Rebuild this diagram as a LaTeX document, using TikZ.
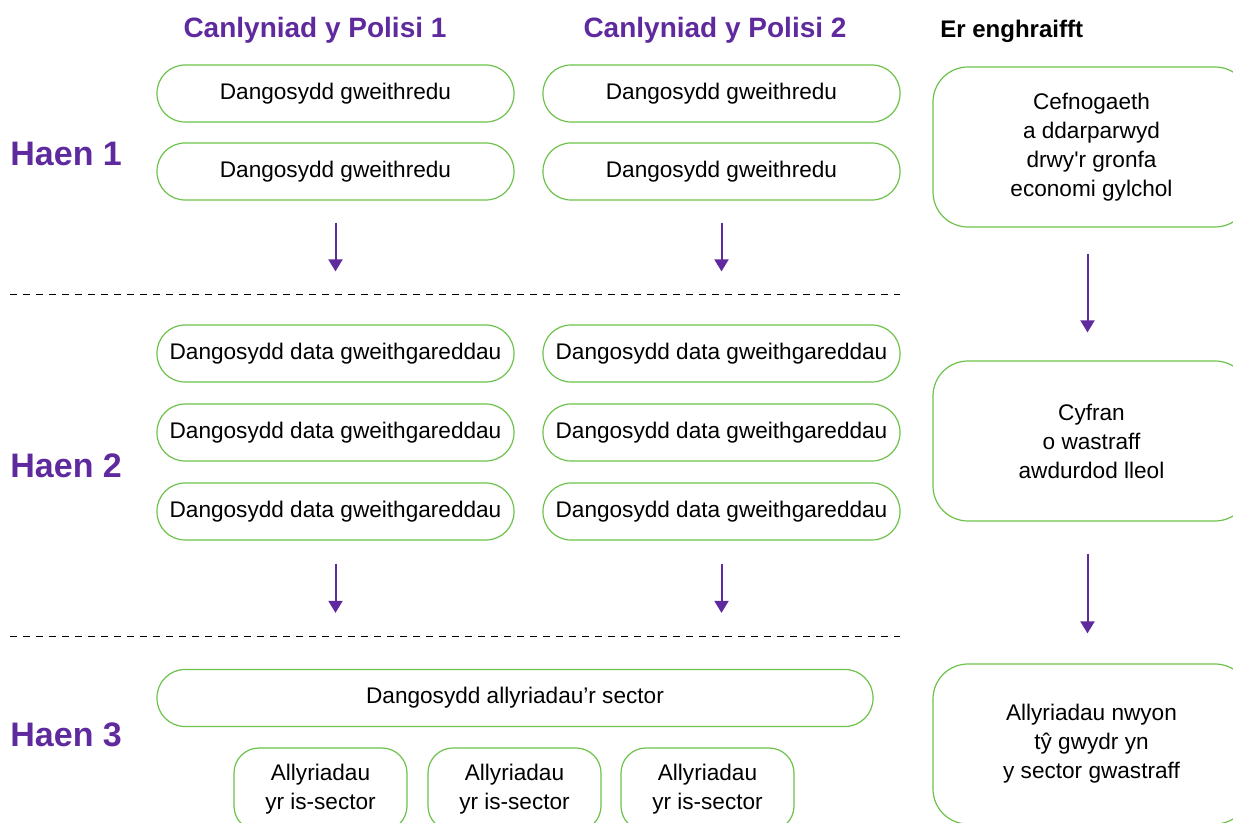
\documentclass[tikz,border=0pt]{standalone}
\usepackage{fontspec}
\setmainfont{Liberation Sans}
\usetikzlibrary{arrows.meta,positioning}
\definecolor{haenpurple}{HTML}{5F2A9E}
\definecolor{boxgreen}{HTML}{6CC24A}

\begin{document}
\begin{tikzpicture}[x=0.5pt,y=-0.5pt,
    pill/.style={draw=boxgreen,line width=0.6pt,rounded corners=14pt,
        minimum width=178.5pt,minimum height=28.5pt,inner sep=0pt,
        font=\fontsize{11.3}{14.5}\selectfont},
    tallbox/.style={draw=boxgreen,line width=0.6pt,rounded corners=17.5pt,
        minimum width=158.5pt,minimum height=80pt,inner sep=0pt,align=center,
        font=\fontsize{11.3}{14.5}\selectfont},
    subbox/.style={draw=boxgreen,line width=0.6pt,rounded corners=12.5pt,
        minimum width=86.5pt,minimum height=41.5pt,inner sep=0pt,align=center,
        font=\fontsize{11.3}{14.5}\selectfont},
    flow/.style={draw=haenpurple,line width=1pt,-{Triangle[width=7pt,length=6pt]}},
    haen/.style={text=haenpurple,font=\bfseries\fontsize{17}{20}\selectfont,
        anchor=base west,inner sep=0pt},
    colhead/.style={text=haenpurple,font=\bfseries\fontsize{14}{17}\selectfont,anchor=base},
    tierline/.style={line width=0.5pt,dash pattern=on 3.5pt off 3pt}]
  \useasboundingbox (0,0) rectangle (1233,823);
  \clip (0,0) rectangle (1233,823);

  % headings
  \node[colhead] (head1) at (315,38) {Canlyniad y Polisi 1};
  \node[colhead] (head2) at (715,38) {Canlyniad y Polisi 2};
  \node[anchor=base west,inner sep=0pt,font=\bfseries\fontsize{12}{14}\selectfont]
    (headeg) at (940,37.5) {Er enghraifft};
  \node[haen] (haen1) at (10,166) {Haen 1};
  \node[haen] (haen2) at (10,477.5) {Haen 2};
  \node[haen] (haen3) at (10,746.5) {Haen 3};

  % haen 1
  \node[pill] (p1a) at (335.5,93.5) {Dangosydd gweithredu};
  \node[pill] (p1b) at (335.5,171.5) {Dangosydd gweithredu};
  \node[pill] (p2a) at (721.5,93.5) {Dangosydd gweithredu};
  \node[pill] (p2b) at (721.5,171.5) {Dangosydd gweithredu};

  \draw[tierline] (10,295) -- (900,295);

  % haen 2
  \node[pill] (q1a) at (335.5,353.5) {Dangosydd data gweithgareddau};
  \node[pill] (q1b) at (335.5,432.5) {Dangosydd data gweithgareddau};
  \node[pill] (q1c) at (335.5,511.5) {Dangosydd data gweithgareddau};
  \node[pill] (q2a) at (721.5,353.5) {Dangosydd data gweithgareddau};
  \node[pill] (q2b) at (721.5,432.5) {Dangosydd data gweithgareddau};
  \node[pill] (q2c) at (721.5,511.5) {Dangosydd data gweithgareddau};

  \draw[tierline] (10,637) -- (900,637);

  % haen 3
  \node[pill,minimum width=358pt] (sec) at (515,698) {Dangosydd allyriadau’r sector};
  \node[subbox] (sub1) at (320.5,789.5) {Allyriadau\\yr is-sector};
  \node[subbox] (sub2) at (514.5,789.5) {Allyriadau\\yr is-sector};
  \node[subbox] (sub3) at (707.5,789.5) {Allyriadau\\yr is-sector};

  \draw[flow,shorten <=11pt,shorten >=26.5pt] (p1b.south) -- (q1a.north);
  \draw[flow,shorten <=11pt,shorten >=26.5pt] (p2b.south) -- (q2a.north);
  \draw[flow,shorten <=11.5pt,shorten >=28pt] (q1c.south) -- (q1c.south |- sec.north);
  \draw[flow,shorten <=11.5pt,shorten >=28pt] (q2c.south) -- (q2c.south |- sec.north);

  % example column
  \node[tallbox] (eg1) at (1091.5,147)
    {Cefnogaeth\\a ddarparwyd\\drwy\textquotesingle r gronfa\\economi gylchol};
  \node[tallbox] (eg2) at (1091.5,441) {Cyfran\\o wastraff\\awdurdod lleol};
  \node[tallbox] (eg3) at (1091.5,744) {Allyriadau nwyon\\tŷ gwydr yn\\y sector gwastraff};
  \draw[flow,shorten <=13pt,shorten >=14pt] ([xshift=-2pt]eg1.south) -- ([xshift=-2pt]eg2.north);
  \draw[flow,shorten <=16pt,shorten >=15pt] ([xshift=-2pt]eg2.south) -- ([xshift=-2pt]eg3.north);
\end{tikzpicture}
\end{document}
